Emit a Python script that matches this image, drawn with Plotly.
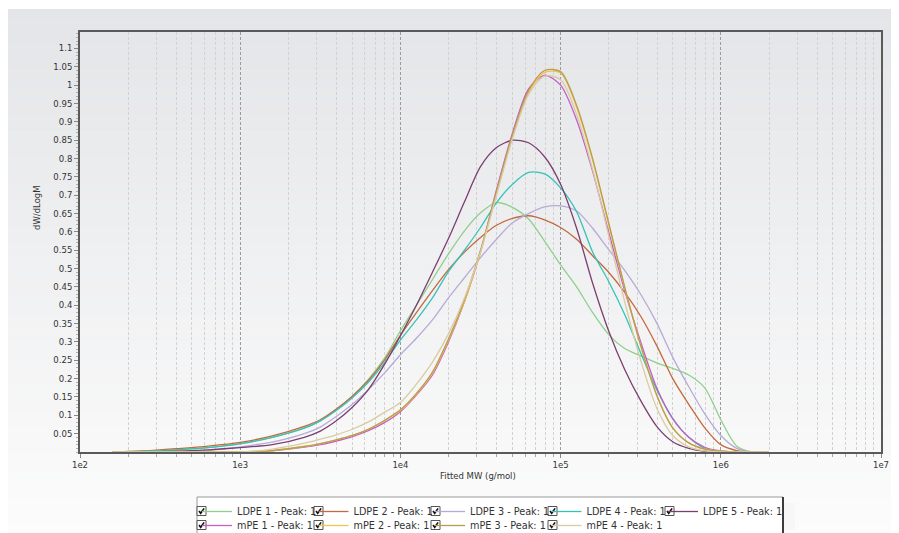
import plotly.graph_objects as go

# ---------------- data ----------------
LOG_MW = [2.2, 2.4, 2.6, 2.8, 3.0, 3.2, 3.4, 3.5, 3.6, 3.7, 3.8, 3.9, 4.0, 4.1, 4.2,
          4.3, 4.4, 4.5, 4.6, 4.7, 4.8, 4.9, 5.0, 5.1, 5.2, 5.3, 5.4, 5.5, 5.6, 5.7,
          5.8, 5.9, 6.0, 6.1, 6.2, 6.3]

LDPE_1 = [0, 0.002, 0.006, 0.012, 0.023, 0.04, 0.066, 0.085, 0.115, 0.152, 0.198, 0.255,
          0.33, 0.4, 0.47, 0.54, 0.603, 0.652, 0.68, 0.667, 0.635, 0.575, 0.51, 0.45,
          0.38, 0.32, 0.282, 0.262, 0.243, 0.228, 0.21, 0.175, 0.088, 0.016, 0, 0]
LDPE_2 = [0, 0.003, 0.009, 0.016, 0.026, 0.044, 0.07, 0.088, 0.117, 0.152, 0.195, 0.25,
          0.318, 0.38, 0.44, 0.497, 0.545, 0.585, 0.618, 0.637, 0.644, 0.633, 0.612, 0.58,
          0.535, 0.49, 0.435, 0.37, 0.29, 0.2, 0.13, 0.066, 0.02, 0.004, 0, 0]
LDPE_3 = [0, 0, 0, 0.004, 0.014, 0.027, 0.05, 0.068, 0.097, 0.13, 0.17, 0.215,
          0.265, 0.31, 0.36, 0.42, 0.475, 0.53, 0.58, 0.625, 0.65, 0.668, 0.671, 0.657,
          0.61, 0.552, 0.495, 0.43, 0.352, 0.258, 0.178, 0.104, 0.045, 0.01, 0, 0]
LDPE_4 = [0, 0.002, 0.006, 0.012, 0.022, 0.04, 0.065, 0.085, 0.113, 0.148, 0.19, 0.243,
          0.305, 0.36, 0.42, 0.492, 0.55, 0.612, 0.68, 0.73, 0.762, 0.758, 0.72, 0.655,
          0.545, 0.465, 0.375, 0.27, 0.17, 0.092, 0.04, 0.01, 0, 0, 0, 0]
LDPE_5 = [0, 0, 0.002, 0.006, 0.012, 0.02, 0.04, 0.057, 0.085, 0.122, 0.17, 0.238,
          0.317, 0.4, 0.49, 0.582, 0.682, 0.778, 0.83, 0.85, 0.843, 0.805, 0.73, 0.61,
          0.46, 0.33, 0.225, 0.14, 0.07, 0.028, 0.01, 0.002, 0, 0, 0, 0]
MPE_1 = [0, 0, 0, 0, 0, 0.003, 0.013, 0.02, 0.03, 0.042, 0.058, 0.08,
         0.11, 0.155, 0.21, 0.3, 0.41, 0.545, 0.715, 0.87, 0.99, 1.027, 1.0, 0.905,
         0.765, 0.6, 0.44, 0.3, 0.175, 0.09, 0.04, 0.013, 0.003, 0, 0, 0]
MPE_2 = [0, 0, 0, 0, 0, 0.004, 0.015, 0.023, 0.033, 0.045, 0.062, 0.085,
         0.113, 0.158, 0.215, 0.305, 0.41, 0.545, 0.705, 0.86, 0.98, 1.035, 1.033, 0.94,
         0.795, 0.62, 0.448, 0.29, 0.155, 0.066, 0.025, 0.008, 0.002, 0, 0, 0]
MPE_3 = [0, 0, 0, 0, 0, 0.004, 0.015, 0.023, 0.033, 0.045, 0.062, 0.086,
         0.115, 0.16, 0.218, 0.308, 0.415, 0.55, 0.71, 0.865, 0.985, 1.04, 1.037, 0.945,
         0.8, 0.625, 0.45, 0.29, 0.155, 0.066, 0.025, 0.008, 0.002, 0, 0, 0]
MPE_4 = [0, 0, 0, 0, 0, 0.008, 0.024, 0.035, 0.047, 0.062, 0.082, 0.108,
         0.135, 0.185, 0.245, 0.322, 0.42, 0.545, 0.7, 0.855, 0.975, 1.025, 1.015, 0.92,
         0.77, 0.59, 0.41, 0.25, 0.12, 0.045, 0.014, 0.003, 0, 0, 0, 0]

SERIES_NAMES = ["LDPE 1 - Peak: 1", "LDPE 2 - Peak: 1", "LDPE 3 - Peak: 1",
                "LDPE 4 - Peak: 1", "LDPE 5 - Peak: 1",
                "mPE 1 - Peak: 1", "mPE 2 - Peak: 1", "mPE 3 - Peak: 1", "mPE 4 - Peak: 1"]
SERIES_VALUES = [LDPE_1, LDPE_2, LDPE_3, LDPE_4, LDPE_5, MPE_1, MPE_2, MPE_3, MPE_4]

X_TICK_VALS = [1e2, 1e3, 1e4, 1e5, 1e6, 1e7]
X_TICK_TEXT = ["1e2", "1e3", "1e4", "1e5", "1e6", "1e7"]
Y_TICK_VALS = [0.05, 0.1, 0.15, 0.2, 0.25, 0.3, 0.35, 0.4, 0.45, 0.5, 0.55,
               0.6, 0.65, 0.7, 0.75, 0.8, 0.85, 0.9, 0.95, 1.0, 1.05, 1.1]
Y_TICK_TEXT = ["0.05", "0.1", "0.15", "0.2", "0.25", "0.3", "0.35", "0.4", "0.45", "0.5",
               "0.55", "0.6", "0.65", "0.7", "0.75", "0.8", "0.85", "0.9", "0.95", "1",
               "1.05", "1.1"]

# ---------------- styling ----------------
COLORS = ["#8fd08b", "#c4683f", "#b6aad8", "#36c3b6", "#7c3e71",
          "#c65ec6", "#f3c24f", "#b69f4c", "#d8cba5"]
FONT = "DejaVu Sans"
TXT = "#333333"

OFF = 8                      # page body margin
W, H = 899 - OFF, 533 - OFF  # figure size
# plot area in page pixels
PL, PR, PT, PB = 80, 881, 32, 452


def px_x(p):   # page px -> paper x
    return (p - PL) / (PR - PL)


def px_y(p):   # page px -> paper y
    return (PB - p) / (PB - PT)


mw = [10 ** v for v in LOG_MW]

fig = go.Figure()
for i, (name, vals) in enumerate(zip(SERIES_NAMES, SERIES_VALUES)):
    last_in_row = i in (4, 8)
    fig.add_trace(go.Scatter(
        x=mw, y=vals, name=name, mode="lines",
        line=dict(color=COLORS[i], width=1.3, shape="spline", smoothing=0.8),
        legend="legend" if i < 5 else "legend2",
        legendwidth=110 if last_in_row else None,
        hoverinfo="skip",
    ))

shapes = []
# background gradient (light grey top -> near white bottom)
n_bands = 60
top_px, bot_px = OFF + 1, 533
c0 = (228, 229, 232)
c1 = (252, 252, 252)
for k in range(n_bands):
    y0p = top_px + (bot_px - top_px) * k / n_bands
    y1p = top_px + (bot_px - top_px) * (k + 1) / n_bands + 0.6
    t = (k + 0.5) / n_bands
    col = "rgb(%d,%d,%d)" % tuple(round(c0[j] + (c1[j] - c0[j]) * t) for j in range(3))
    shapes.append(dict(type="rect", xref="paper", yref="paper",
                       x0=px_x(OFF), x1=px_x(900), y0=px_y(y1p), y1=px_y(y0p),
                       fillcolor=col, line=dict(width=0), layer="below"))

# legend frame
BOX_L, BOX_R, BOX_T = 197, 783, 497
shapes.append(dict(type="rect", xref="paper", yref="paper",
                   x0=px_x(BOX_L), x1=px_x(BOX_R), y0=px_y(545), y1=px_y(BOX_T),
                   fillcolor="white", line=dict(color="#9a9a9a", width=1), layer="below"))
# white mask + dark right edge clipping the legend text like the reference
shapes.append(dict(type="rect", xref="paper", yref="paper",
                   x0=px_x(BOX_R), x1=px_x(BOX_R + 12), y0=px_y(530), y1=px_y(503),
                   fillcolor="rgb(247,247,247)", line=dict(width=0), layer="above"))
shapes.append(dict(type="line", xref="paper", yref="paper",
                   x0=px_x(BOX_R), x1=px_x(BOX_R), y0=px_y(545), y1=px_y(BOX_T),
                   line=dict(color="#3c3c3c", width=2), layer="above"))

# check boxes in front of legend entries
LEG_X = 197          # page x of legend origin
STEP = 117           # page px between legend columns
ROWS = [(511, 5), (525, 4)]
for cy, n in ROWS:
    for c in range(n):
        cx = LEG_X + 4.5 + c * STEP
        shapes.append(dict(type="rect", xref="paper", yref="paper",
                           x0=px_x(cx - 4.5), x1=px_x(cx + 4.5),
                           y0=px_y(cy + 4.5), y1=px_y(cy - 4.5),
                           fillcolor="white", line=dict(color="#555555", width=1),
                           layer="above"))
        path = "M %f,%f L %f,%f L %f,%f" % (px_x(cx - 2.5), px_y(cy),
                                            px_x(cx - 0.8), px_y(cy + 2.3),
                                            px_x(cx + 2.6), px_y(cy - 2.6))
        shapes.append(dict(type="path", xref="paper", yref="paper", path=path,
                           line=dict(color="#111111", width=1.6), layer="above"))

minor_x = [k * 10 ** n for n in range(2, 7) for k in range(2, 10)]

leg_common = dict(orientation="h", xanchor="left", yanchor="top",
                  bgcolor="rgba(0,0,0,0)", borderwidth=0,
                  font=dict(family=FONT, size=9.7, color=TXT),
                  entrywidth=71.5, entrywidthmode="pixels", itemwidth=30,
                  traceorder="normal", tracegroupgap=0)

fig.update_layout(
    width=W, height=H,
    margin=dict(l=PL - OFF, r=W - (PR - OFF), t=PT - OFF, b=H - (PB - OFF), pad=0,
                autoexpand=False),
    paper_bgcolor="white",
    plot_bgcolor="rgba(0,0,0,0)",
    font=dict(family=FONT, size=8.5, color=TXT),
    shapes=shapes,
    showlegend=True,
    legend=dict(x=px_x(LEG_X), y=px_y(497), **leg_common),
    legend2=dict(x=px_x(LEG_X), y=px_y(511), **leg_common),
    annotations=[
        dict(text="dW/dLogM", xref="paper", yref="paper", x=px_x(37), y=px_y(208),
             xanchor="center", yanchor="middle",
             showarrow=False, textangle=-90, font=dict(family=FONT, size=8.5, color=TXT)),
        dict(text="Fitted MW (g/mol)", xref="paper", yref="paper", x=px_x(478), y=px_y(476),
             xanchor="center", yanchor="middle",
             showarrow=False, font=dict(family=FONT, size=8.5, color=TXT)),
    ],
)

fig.update_xaxes(
    type="log", range=[2, 7],
    tickmode="array", tickvals=X_TICK_VALS, ticktext=X_TICK_TEXT,
    showgrid=True, gridcolor="#9a9a9a", griddash="3px,2px", gridwidth=1,
    showline=True, linecolor="#5a5a5a", linewidth=2, mirror=True,
    ticks="outside", ticklen=4, tickcolor="#888888",
    minor=dict(tickvals=minor_x, showgrid=True, gridcolor="#d2d2d2",
               griddash="3px,2px", gridwidth=1, ticks="outside", ticklen=3,
               tickcolor="#aaaaaa"),
    zeroline=False, fixedrange=True,
    tickfont=dict(family=FONT, size=8.5, color=TXT),
)
fig.update_yaxes(
    range=[0, 1.145],
    tickmode="array", tickvals=Y_TICK_VALS, ticktext=Y_TICK_TEXT,
    showgrid=False, zeroline=False,
    showline=True, linecolor="#5a5a5a", linewidth=2, mirror=True,
    ticks="outside", ticklen=4, tickcolor="#888888",
    minor=dict(dtick=0.01, ticks="outside", ticklen=2, tickcolor="#b0b0b0", showgrid=False),
    fixedrange=True,
    tickfont=dict(family=FONT, size=8.5, color=TXT),
)

fig.write_html("out.html")
